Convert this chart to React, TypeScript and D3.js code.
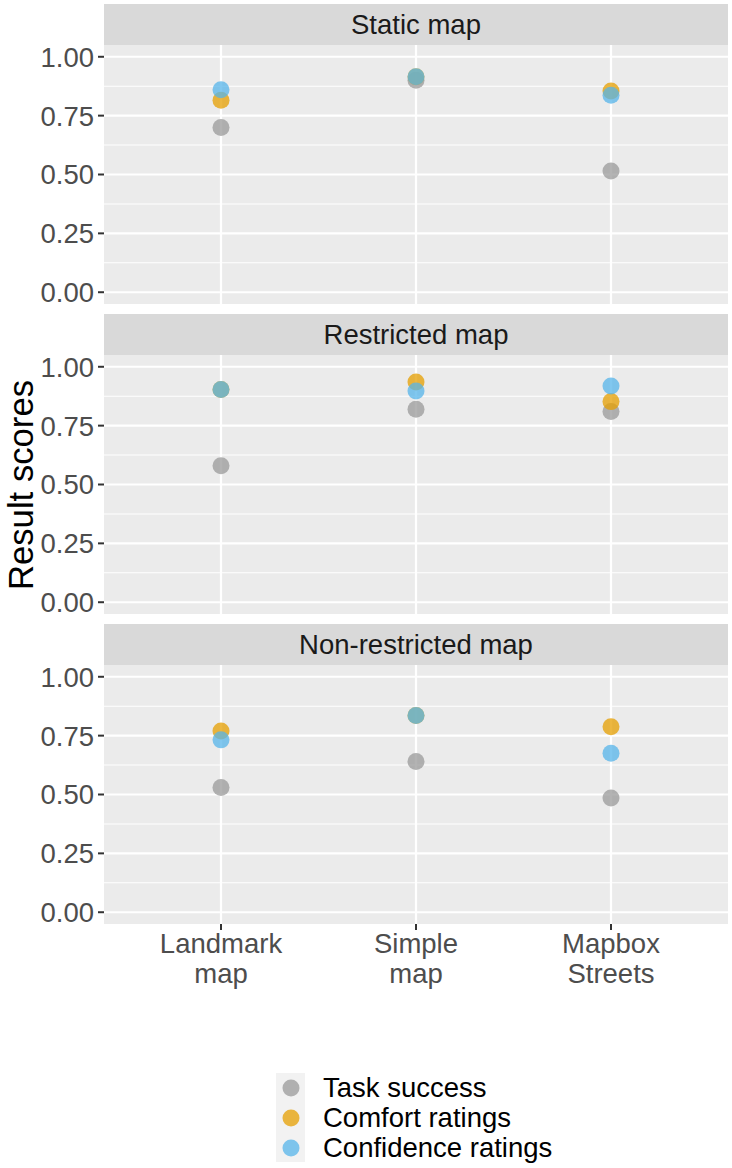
import React from "react";
import * as d3 from "d3";

const categories = ["Landmark map", "Simple map", "Mapbox Streets"];
const categoryLines = [["Landmark", "map"], ["Simple", "map"], ["Mapbox", "Streets"]];
const facets = ["Static map", "Restricted map", "Non-restricted map"];
const seriesNames = ["Task success", "Comfort ratings", "Confidence ratings"];
const seriesColors = ["#999999", "#E69F00", "#56B4E9"];

// values[facet][category]
const taskSuccess = [
  [0.70, 0.90, 0.515],
  [0.58, 0.82, 0.81],
  [0.53, 0.64, 0.485],
];
const comfortRatings = [
  [0.815, 0.915, 0.855],
  [0.903, 0.935, 0.852],
  [0.77, 0.836, 0.788],
];
const confidenceRatings = [
  [0.86, 0.915, 0.837],
  [0.903, 0.897, 0.918],
  [0.732, 0.836, 0.675],
];
const yTicks = [0, 0.25, 0.5, 0.75, 1];
const yMinor = [0.125, 0.375, 0.625, 0.875];

const W = 732, H = 1168;
const left = 104, right = 728;
const stripTops = [4, 314, 624];
const stripH = 41, panelH = 259;
const font = "'Liberation Sans', Arial, sans-serif";
const fs = 27.5;

const App = () => {
  const x = d3.scalePoint<string>().domain(categories).range([left, right]).padding(0.6);
  const series = [taskSuccess, comfortRatings, confidenceRatings];

  return (
    <svg width={W} height={H} style={{ position: "absolute", left: 0, top: 0 }} fontFamily={font}>
      <rect width={W} height={H} fill="#fff" />
      {facets.map((f, fi) => {
        const top = stripTops[fi] + stripH;
        const bottom = top + panelH;
        const y = d3.scaleLinear().domain([-0.05, 1.05]).range([bottom, top]);
        return (
          <g key={f}>
            <rect x={left} y={stripTops[fi]} width={right - left} height={stripH} fill="#D9D9D9" />
            <text x={(left + right) / 2} y={stripTops[fi] + stripH / 2} dy="0.36em" textAnchor="middle" fontSize={fs} fill="#1A1A1A">{f}</text>
            <rect x={left} y={top} width={right - left} height={panelH} fill="#EBEBEB" />
            {yMinor.map((t) => (
              <line key={"m" + t} x1={left} x2={right} y1={y(t)} y2={y(t)} stroke="#fff" strokeWidth={1.1} />
            ))}
            {yTicks.map((t) => (
              <line key={"g" + t} x1={left} x2={right} y1={y(t)} y2={y(t)} stroke="#fff" strokeWidth={2.2} />
            ))}
            {categories.map((c) => (
              <line key={c} x1={x(c)} x2={x(c)} y1={top} y2={bottom} stroke="#fff" strokeWidth={2.2} />
            ))}
            {yTicks.map((t) => (
              <g key={"t" + t}>
                <line x1={left - 6} x2={left} y1={y(t)} y2={y(t)} stroke="#333333" strokeWidth={2} />
                <text x={left - 10} y={y(t)} dy="0.36em" textAnchor="end" fontSize={fs} fill="#4D4D4D">{t.toFixed(2)}</text>
              </g>
            ))}
            {series.map((s, si) =>
              categories.map((c, ci) => (
                <circle key={si + c} cx={x(c)} cy={y(s[fi][ci])} r={8.5} fill={seriesColors[si]} fillOpacity={0.75} />
              ))
            )}
          </g>
        );
      })}
      {categories.map((c, ci) => {
        const base = stripTops[2] + stripH + panelH;
        return (
          <g key={c}>
            <line x1={x(c)} x2={x(c)} y1={base} y2={base + 6} stroke="#333333" strokeWidth={2} />
            {categoryLines[ci].map((ln, li) => (
              <text key={li} x={x(c)} y={953 + li * 30} textAnchor="middle" fontSize={fs} fill="#4D4D4D">{ln}</text>
            ))}
          </g>
        );
      })}
      <text transform="translate(33,485) rotate(-90)" textAnchor="middle" fontSize={34.7} fill="#000">Result scores</text>
      <rect x={276} y={1073} width={29} height={89} fill="#F2F2F2" />
      {seriesNames.map((n, i) => {
        const cy = 1088 + i * 30;
        return (
          <g key={n}>
            <circle cx={291} cy={cy} r={8.5} fill={seriesColors[i]} fillOpacity={0.75} />
            <text x={323} y={cy} dy="0.33em" fontSize={fs} fill="#000">{n}</text>
          </g>
        );
      })}
    </svg>
  );
};

export default App;
